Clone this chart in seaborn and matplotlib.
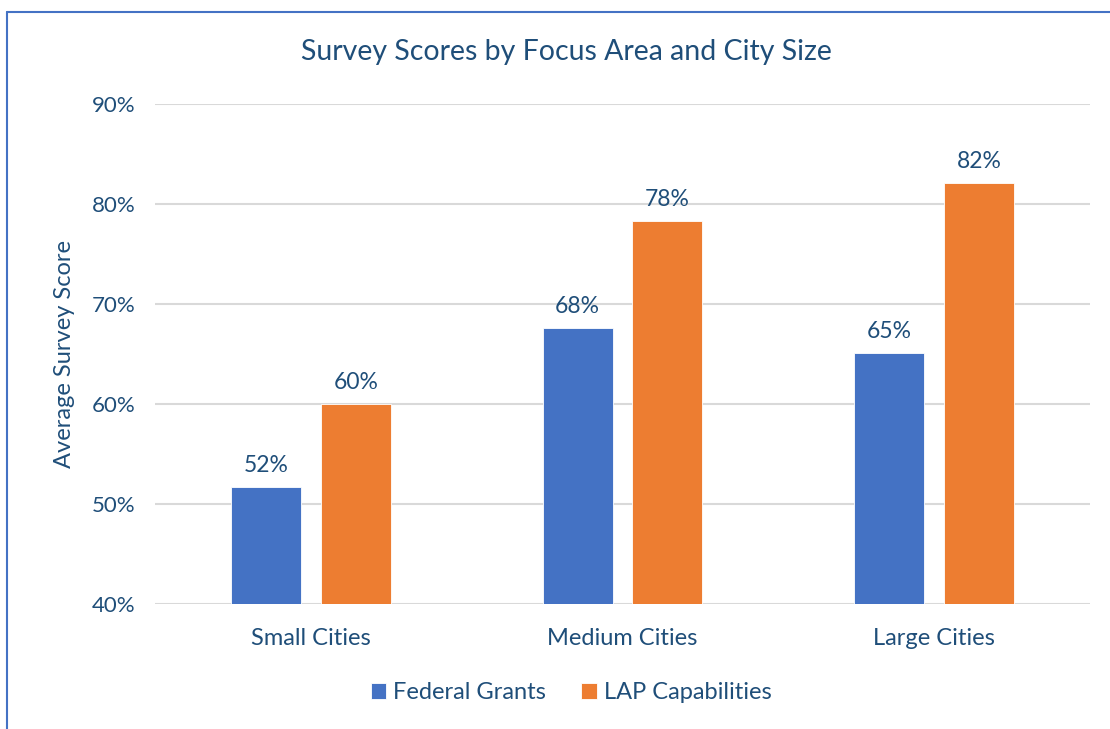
import matplotlib
matplotlib.use("Agg")
import matplotlib.pyplot as plt
from matplotlib.lines import Line2D
from matplotlib.ticker import PercentFormatter
import pandas as pd
import seaborn as sns

# ─── Data ─────────────────────────────────────────────────────────────────────

CITIES   = ["Small Cities", "Medium Cities", "Large Cities"]
FEDERAL  = [51.7, 67.6, 65.1]
LAP      = [60.0, 78.3, 82.1]
SERIES   = ["Federal Grants", "LAP Capabilities"]
Y_TICKS  = [40, 50, 60, 70, 80, 90]

TEXT_COLOR = "#1F4E79"
PALETTE    = ["#4472C4", "#ED7D31"]

df = pd.DataFrame({
    "city":   CITIES * 2,
    "series": [SERIES[0]] * len(CITIES) + [SERIES[1]] * len(CITIES),
    "score":  FEDERAL + LAP,
})

# ─── Plot ─────────────────────────────────────────────────────────────────────

sns.set_theme(style="white")
plt.rcParams["font.family"] = ["Lato", "DejaVu Sans"]

fig = plt.figure(figsize=(11.1, 7.29), dpi=100)
ax = fig.add_axes([0.1396, 0.1715, 0.8424, 0.6855])

sns.barplot(data=df, x="city", y="score", hue="series", order=CITIES,
            hue_order=SERIES, palette=PALETTE, width=0.577, gap=0.222,
            saturation=1, edgecolor="white", linewidth=0.6, ax=ax)

for cont in ax.containers:
    ax.bar_label(cont, labels=[f"{v:.0f}%" for v in cont.datavalues],
                 padding=8, fontsize=16.5, color=TEXT_COLOR)

ax.set_ylim(40, 90)
ax.set_yticks(Y_TICKS)
ax.yaxis.set_major_formatter(PercentFormatter(decimals=0))
ax.grid(axis="y", color="#D9D9D9", lw=1.5)
ax.set_axisbelow(True)
sns.despine(ax=ax, left=True, bottom=True)
ax.tick_params(axis="both", length=0, colors=TEXT_COLOR)
ax.tick_params(axis="y", pad=14, labelsize=16)
ax.tick_params(axis="x", pad=17, labelsize=17)
ax.set_xlabel("")
ax.set_ylabel("Average Survey Score", fontsize=17, color=TEXT_COLOR, labelpad=12)

fig.text(0.51, 1 - 52 / 729, "Survey Scores by Focus Area and City Size",
         fontsize=20.5, color=TEXT_COLOR, ha="center", va="center")

ax.legend(loc="center", bbox_to_anchor=(0.445, -0.178), ncol=2,
          frameon=False, fontsize=17, handlelength=0.65, handleheight=0.65,
          handletextpad=0.3, columnspacing=1.5, labelcolor=TEXT_COLOR)

# chart frame (top and left edges visible)
fig.add_artist(Line2D([0.0063, 1.0], [0.9835, 0.9835], color="#4472C4",
                      lw=1.5, transform=fig.transFigure))
fig.add_artist(Line2D([0.0063, 0.0063], [0.0, 0.9835], color="#4472C4",
                      lw=1.5, transform=fig.transFigure))

fig.savefig("out.png", dpi=100)
